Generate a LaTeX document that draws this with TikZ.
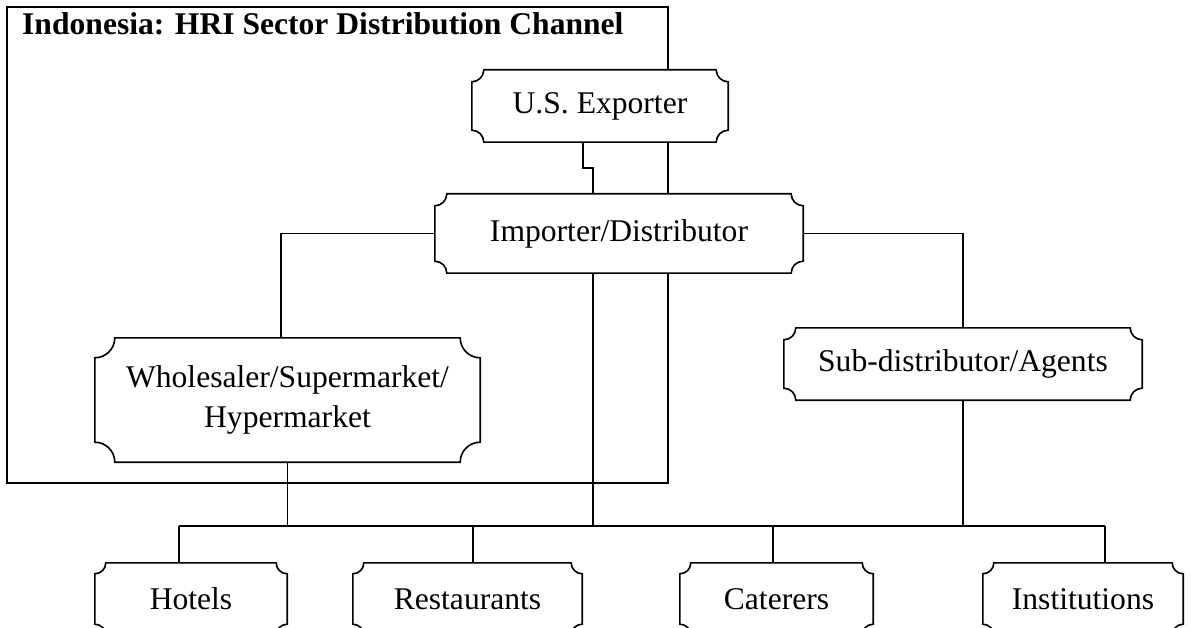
\documentclass[tikz,border=0pt]{standalone}
\usepackage{fontspec}
\setmainfont{Liberation Serif}
\usetikzlibrary{calc}
\pgfdeclarelayer{back}
\pgfdeclarelayer{mid}
\pgfsetlayers{back,mid,main}
\tikzset{
  lbl/.style={inner sep=0pt, draw=none, align=center, font=\fontsize{31.6}{40}\selectfont},
  plaque/.style={draw=black, fill=white, line width=1.6pt},
  conn/.style={draw=black, line width=1.6pt},
}
\newcommand\plq[2]{%
  \path[plaque] (#1.north west) ++(0pt,-#2pt) arc[start angle=-90,end angle=0,radius=#2pt]
   -- ($(#1.north east)+(-#2pt,0pt)$) arc[start angle=180,end angle=270,radius=#2pt]
   -- ($(#1.south east)+(0pt,#2pt)$) arc[start angle=90,end angle=180,radius=#2pt]
   -- ($(#1.south west)+(#2pt,0pt)$) arc[start angle=0,end angle=90,radius=#2pt]
   -- cycle;}
\begin{document}
\begin{tikzpicture}[x=1pt,y=-1pt]
\useasboundingbox (0,0) rectangle (1191,628);
% nodes (text)
\node[lbl, minimum width=256pt, minimum height=72pt] (exp) at (600,106) {U.S. Exporter};
\node[lbl, minimum width=368pt, minimum height=79pt] (imp) at (619,233.5) {Importer/Distributor};
\node[lbl, minimum width=385pt, minimum height=124pt] (whl) at (287.5,400) {Wholesaler/Supermarket/\\Hypermarket};
\node[lbl, minimum width=358pt, minimum height=72pt] (sub) at (963,364) {Sub-distributor/Agents};
\node[lbl, minimum width=192pt, minimum height=72pt] (hot) at (191,599) {Hotels};
\node[lbl, minimum width=229pt, minimum height=72pt] (res) at (467.5,599) {Restaurants};
\node[lbl, minimum width=193pt, minimum height=72pt] (cat) at (776.5,599) {Caterers};
\node[lbl, minimum width=200pt, minimum height=72pt] (ins) at (1083,599) {Institutions};
\node[lbl, anchor=base west, font=\fontsize{31.6}{40}\selectfont\bfseries] (title) at (22,35) {Indonesia: HRI Sector Distribution Channel};
% coordinates
\coordinate (kx) at (583,168);
\coordinate (ix) at (593,0);
\coordinate (lx) at (281,0);
\coordinate (b1) at (179,526);
\coordinate (b2) at (473,526);
\coordinate (b3) at (773,526);
\coordinate (b4) at (1105,526);
\coordinate (tl) at (7,7);
\coordinate (br) at (668,483);
\begin{pgfonlayer}{back}
  \draw[conn] (tl) rectangle (br);
  \draw[conn] (exp.south -| kx) -- (kx) -- (kx -| ix) -- (imp.north -| ix);
  \draw[conn] (imp.west) -| (lx |- whl.north);
  \draw[conn] (imp.east) -| (sub.north);
  \draw[conn] (imp.south -| ix) -- (ix |- b1);
  \draw[conn] (whl.south) -- (whl.south |- b1);
  \draw[conn] (sub.south) -- (sub.south |- b1);
  \draw[conn] (b1) -- (b4);
  \draw[conn] (b1) -- (b1 |- hot.north);
  \draw[conn] (b2) -- (b2 |- res.north);
  \draw[conn] (b3) -- (b3 |- cat.north);
  \draw[conn] (b4) -- (b4 |- ins.north);
\end{pgfonlayer}
\begin{pgfonlayer}{mid}
  \plq{exp}{12}
  \plq{imp}{12}
  \plq{whl}{20}
  \plq{sub}{12}
  \plq{hot}{11}
  \plq{res}{11}
  \plq{cat}{11}
  \plq{ins}{11}
\end{pgfonlayer}
\end{tikzpicture}
\end{document}
